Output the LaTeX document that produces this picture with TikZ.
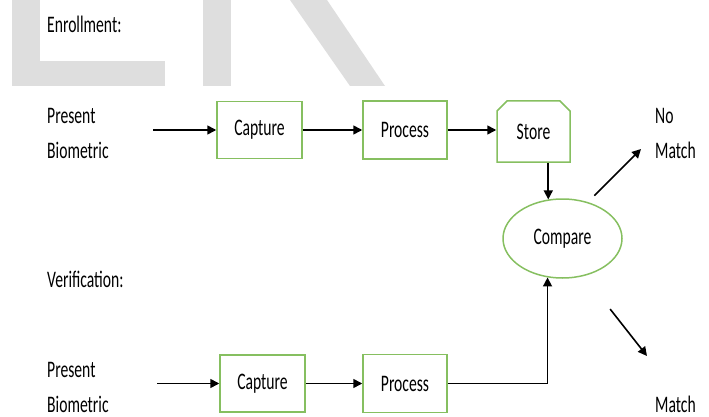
\documentclass[tikz,border=0pt]{standalone}
\usepackage{fontspec}
\setmainfont[FakeStretch=0.66]{Carlito}
\usetikzlibrary{arrows.meta}
\usetikzlibrary{shapes.geometric,shapes.misc}
\definecolor{boxgreen}{RGB}{134,191,96}
\definecolor{markgrey}{RGB}{222,222,222}

\begin{document}
\begin{tikzpicture}[x=1pt,y=-1pt,
	every node/.style={font=\fontsize{23.7pt}{35pt}\selectfont},
	caption/.style={anchor=base west,inner sep=0pt,align=left},
	stage/.style={draw=boxgreen,line width=1.5pt,minimum width=85pt,minimum height=57pt,inner sep=0pt},
	flow/.style={line width=1.6pt,-{Triangle[length=9pt,width=9pt]}}]
	\useasboundingbox (0,0) rectangle (709,417);

	%WATERMARK
	\fill[markgrey] (12,0) rectangle (40,86);
	\fill[markgrey] (12,61) rectangle (165,86);
	\fill[markgrey] (203,0) rectangle (231,86);
	\fill[markgrey] (290,0)--(350,86)--(385,86)--(327,0)--cycle;

	%CAPTIONS (base = last line)
	\node[caption] (enroll) at (47,33) {Enrollment:};
	\node[caption] (verify) at (47,287) {Verification:};
	\node[caption] (present) at (47,158) {Present\\Biometric};
	\node[caption] (present2) at (47,412) {Present\\Biometric};
	\node[caption] (nomatch) at (655,158) {No\\Match};
	\node[caption] (match) at (655,412) {Match};

	%ENROLLMENT
	\node[stage] (capture) at (259.5,130) {Capture};
	\node[stage,minimum width=84pt,minimum height=58pt] (process) at (405,130) {Process};
	\node[stage,chamfered rectangle,chamfered rectangle corners={north west,north east},
		chamfered rectangle xsep=5pt,chamfered rectangle ysep=5pt,
		minimum width=73pt,minimum height=61pt] (store) at (533.5,131.5) {Store};
	\node[stage,ellipse,minimum width=119pt,minimum height=79pt] (compare) at (562.5,238.5) {Compare};
	%
	\coordinate (in) at (153,130);
	\draw[flow] (in)--(capture);
	\draw[flow] (capture)--(process);
	\draw[flow] (process.east)--(process.east -| store.west);
	\draw[flow] (store.south -| compare.110.7)--(compare.110.7);

	%VERIFICATION
	\node[stage] (capture2) at (262.5,383.5) {Capture};
	\node[stage,minimum width=84pt,minimum height=58pt] (process2) at (405,383.5) {Process};
	%
	\coordinate (in2) at (157,383.5);
	\draw[flow] (in2)--(capture2);
	\draw[flow] (capture2)--(process2);
	\draw[flow] (process2.east) -| (compare.249.3);

	%RESULT
	\coordinate (nomatchtip) at (641,149);
	\coordinate (matchtip) at (647,356);
	\draw[flow,shorten <=9pt] (compare.55)--(nomatchtip);
	\draw[flow,shorten <=42pt] (compare.300)--(matchtip);
\end{tikzpicture}
\end{document}
